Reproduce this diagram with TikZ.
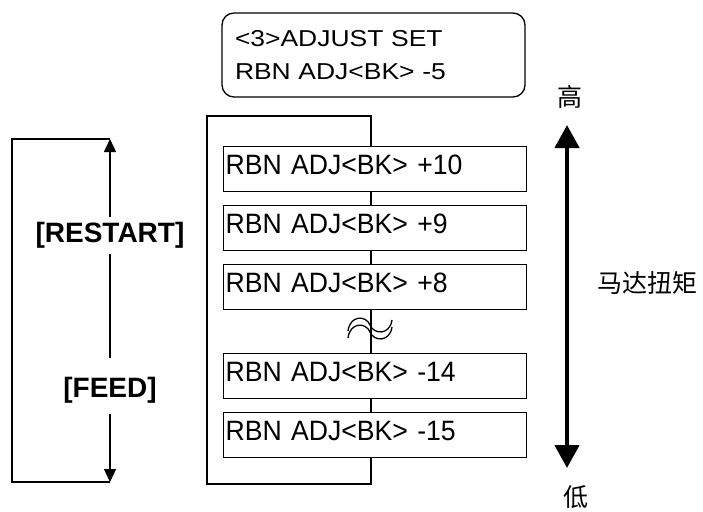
\documentclass[tikz,border=0pt]{standalone}
\usepackage{fontspec}
\setmainfont{Liberation Sans}
\newfontfamily\boxfont[FakeStretch=0.95]{Liberation Sans}
\newfontfamily\topfont[FakeStretch=1.15]{Liberation Sans}
\newfontfamily\cjk{Noto Sans CJK SC}
\usetikzlibrary{arrows.meta}
\begin{document}
\begin{tikzpicture}[x=1pt,y=-1pt,line width=1.3pt,
  rbox/.style={draw, fill=white, minimum width=303pt, minimum height=45pt,
    inner xsep=2pt, inner ysep=0pt, text width=299pt, align=left,
    text height=20pt, text depth=10pt,
    font=\boxfont\fontsize{28}{30}\selectfont, anchor=north west},
  lab/.style={font=\bfseries\fontsize{28}{30}\selectfont, inner xsep=0pt},
  cjkl/.style={font=\cjk\fontsize{25}{28}\selectfont, inner sep=0pt},
  smalltip/.style={-{Triangle[length=13pt,width=12pt]}},
  bigtip/.style={line width=4.5pt,{Triangle[length=23pt,width=24pt]}-{Triangle[length=23pt,width=24pt]}}]
\useasboundingbox (0,0) rectangle (703,511);

% top display
\node[draw, rounded corners=12pt, minimum width=303pt, minimum height=84pt,
  text width=277pt, inner xsep=13pt, inner ysep=0pt, align=left,
  font=\topfont\fontsize{23}{33.5}\selectfont] (top) at (373.5,55)
  {<3>ADJUST SET\\RBN ADJ<BK> -5};

% frame
\draw (207,116) rectangle (371,484);

% boxes
\node[rbox] (b1) at (223,146) {RBN ADJ<BK> +10};
\node[rbox] (b2) at (223,205) {RBN ADJ<BK> +9};
\node[rbox] (b3) at (223,264) {RBN ADJ<BK> +8};
\node[rbox] (b4) at (223,353) {RBN ADJ<BK> -14};
\node[rbox] (b5) at (223,412) {RBN ADJ<BK> -15};

% wave (omission) mark
\draw (348,331) .. controls (350,315) and (366,315) .. (370,325)
  .. controls (374,335) and (390,335) .. (392,320);
\draw (348,338) .. controls (350,322) and (366,322) .. (370,332)
  .. controls (374,342) and (390,342) .. (392,327);

% left loop
\coordinate (ltop) at (110,139);
\coordinate (lbot) at (110,482);
\coordinate (ctl) at (12,139);
\coordinate (cbl) at (12,482);
\node[lab, inner ysep=4.85pt] (restart) at (110,235.6) {[RESTART]};
\node[lab, inner ysep=19.4pt] (feed) at (110,390.6) {[FEED]};
\draw (ltop) -- (ctl) -- (cbl) -- (lbot);
\draw[smalltip] (restart) -- (ltop);
\draw (restart) -- (feed);
\draw[smalltip, shorten <=-10pt] (feed) -- (lbot);

% torque arrow
\coordinate (hi) at (567,125);
\coordinate (lo) at (567,468);
\draw[bigtip] (hi) -- (lo);
\node[cjkl] (gao) at (570,97) {高};
\node[cjkl] (di) at (576,497) {低};
\node[cjkl, anchor=west] (torque) at (597,283) {马达扭矩};
\end{tikzpicture}
\end{document}
